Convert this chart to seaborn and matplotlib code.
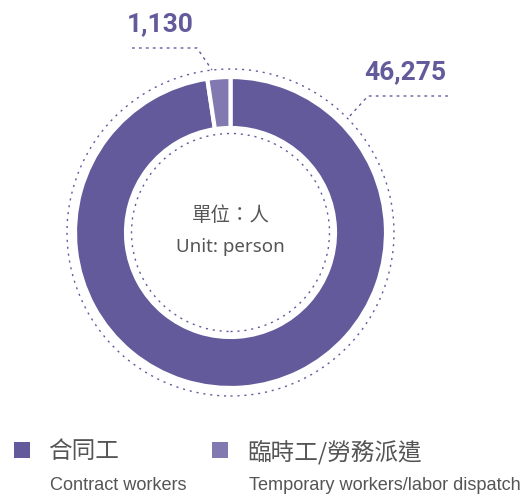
import matplotlib
matplotlib.use("Agg")
import matplotlib.pyplot as plt
import seaborn as sns
from matplotlib.patches import Circle

sns.set_theme(style="white")
plt.rcParams['font.family'] = ['Noto Sans CJK TC', 'DejaVu Sans']

# ---- data ----
categories_zh = ["合同工", "臨時工/勞務派遣"]
categories_en = ["Contract workers", "Temporary workers/labor dispatch"]
values = [46275, 1130]
value_labels = ["46,275", "1,130"]
colors = ["#625a9b", "#8279b1"]
center_zh = "單位：人"
center_en = "Unit: person"

W, H = 529, 499
fig = plt.figure(figsize=(W / 100, H / 100), dpi=100)
ax = fig.add_axes([0, 0, 1, 1])

def Y(py):
    return H - py

cx, cy = 230.5, Y(232.5)
r_out, r_in = 155.5, 104.5

ax.pie(values, colors=colors, startangle=90, counterclock=False,
       center=(cx, cy), radius=r_out, frame=True,
       wedgeprops=dict(width=r_out - r_in, edgecolor="white", linewidth=3))
ax.set_xlim(0, W)
ax.set_ylim(0, H)
ax.set_aspect("equal")
ax.axis("off")

dot_col = "#625a9b"
for rr in (163.5, 99):
    ax.add_patch(Circle((cx, cy), rr, fill=False, edgecolor=dot_col,
                        linewidth=1.0, linestyle=(0, (1.5, 3.5))))

# leader lines
ls = (0, (2, 3))
ax.plot([132, 197, 212], [Y(48), Y(48), Y(70)], color=dot_col, lw=1.0, linestyle=ls)
ax.plot([448, 368, 348], [Y(96), Y(96), Y(118)], color=dot_col, lw=1.0, linestyle=ls)

numfont = dict(family="Roboto", weight="bold", color="#625a9b", fontsize=19)
ax.text(160, Y(24), value_labels[1], ha="center", va="center", **numfont)
ax.text(405, Y(72), value_labels[0], ha="center", va="center", **numfont)

# center text
ax.text(cx, Y(215), center_zh, ha="center", va="center", fontsize=14,
        color="#555555", family=["Noto Sans CJK TC", "DejaVu Sans"])
ax.text(cx, Y(247), center_en, ha="center", va="center", fontsize=13.5,
        color="#555555", family="Noto Sans")

# legend
for x_sq, x_txt, zh, en, c in [(14, 48, categories_zh[0], categories_en[0], colors[0]),
                               (212, 247, categories_zh[1], categories_en[1], colors[1])]:
    ax.add_patch(plt.Rectangle((x_sq, Y(458)), 16, 16, color=c, lw=0))
    ax.text(x_txt, Y(452), zh, ha="left", va="center", fontsize=17,
            color="#555555", family=["Noto Sans CJK TC", "DejaVu Sans"])
    ax.text(x_txt + 2, Y(485.5), en, ha="left", va="center", fontsize=13.1,
            color="#555555", family="Liberation Sans")

fig.savefig("out.png", dpi=100)
